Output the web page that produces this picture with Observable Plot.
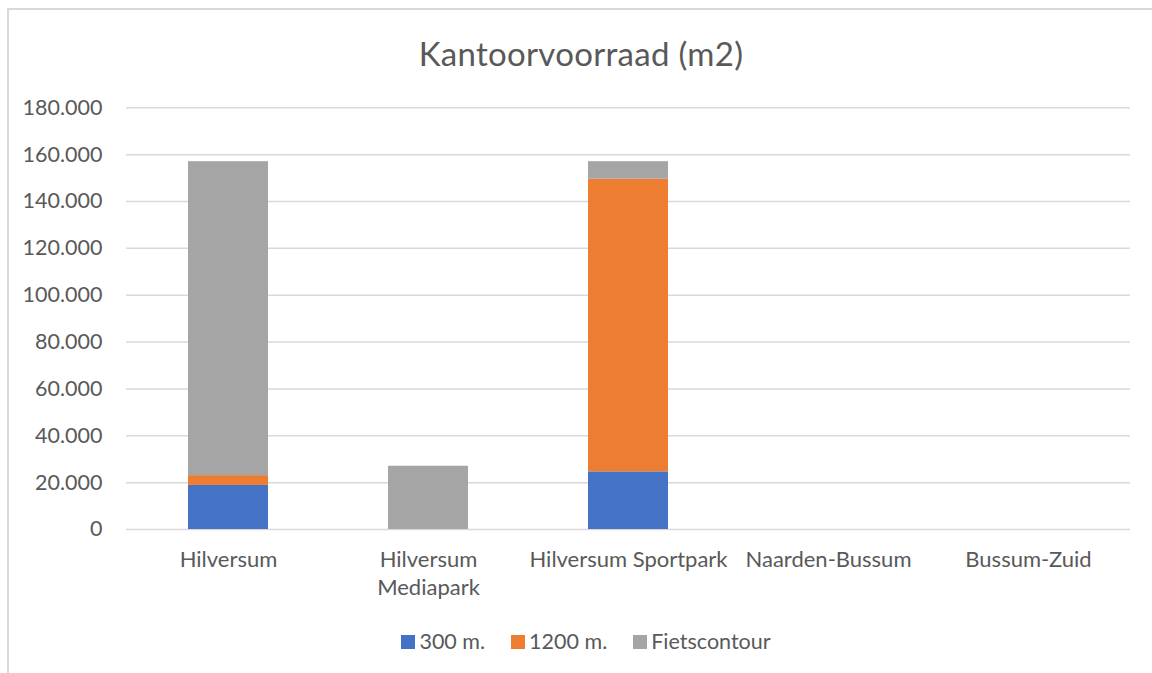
<!DOCTYPE html>
<html><head><meta charset="utf-8">
<script src="https://cdn.jsdelivr.net/npm/d3@7"></script>
<script src="https://cdn.jsdelivr.net/npm/@observablehq/plot@0.6"></script>
<style>
body{margin:0;background:#fff;width:1152px;height:673px;overflow:hidden;position:relative;font-family:Lato,"Open Sans",sans-serif;color:#595959}
#frame{position:absolute;left:7px;top:8px;width:1200px;height:720px;border:2px solid #d9d9d9;box-sizing:border-box}
#title{position:absolute;left:7px;width:1148px;top:37px;text-align:center;font-size:33px;letter-spacing:0.3px;line-height:1;white-space:nowrap}
#chart{position:absolute;left:0;top:90px}
#legend{position:absolute;left:286px;width:600px;top:631px;display:flex;justify-content:center;font-size:21.5px;line-height:1;white-space:nowrap}
.item{display:inline-block;margin:0 13px}
.sw{display:inline-block;width:14px;height:14px;margin-right:4px}
</style></head>
<body>
<div id="frame"></div>
<div id="title">Kantoorvoorraad (m2)</div>
<div id="chart"></div>
<div id="legend"></div>
<script>
const categories = ["Hilversum", "Hilversum Mediapark", "Hilversum Sportpark", "Naarden-Bussum", "Bussum-Zuid"];
const seriesNames = ["300 m.", "1200 m.", "Fietscontour"];
const seriesColors = ["#4472C4", "#ED7D31", "#A5A5A5"];
const values300 = [18800, 0, 24600, 0, 0];
const values1200 = [4200, 0, 124900, 0, 0];
const valuesFiets = [134000, 27000, 7500, 0, 0];
const yTicks = [0, 20000, 40000, 60000, 80000, 100000, 120000, 140000, 160000, 180000];

const data = [];
[values300, values1200, valuesFiets].forEach((vals, si) =>
  vals.forEach((v, ci) => data.push({category: categories[ci], series: seriesNames[si], value: v})));

const nl = d3.formatLocale({decimal: ",", thousands: ".", grouping: [3], currency: ["€", ""]});
const fmt = nl.format(",.0f");
const wrapLabel = d => d === "Hilversum Mediapark" ? "Hilversum\nMediapark" : d;

const plot = Plot.plot({
  width: 1152, height: 520,
  marginLeft: 126, marginRight: 22, marginTop: 17.3, marginBottom: 81,
  style: {fontFamily: "Lato, 'Open Sans', sans-serif", fontSize: "21px", color: "#595959", background: "transparent", overflow: "visible"},
  x: {domain: categories, paddingInner: 0.6, paddingOuter: 0.3, label: null},
  y: {domain: [0, 180000], label: null},
  color: {domain: seriesNames, range: seriesColors},
  marks: [
    Plot.ruleY(yTicks, {stroke: "#d9d9d9", strokeWidth: 1.5}),
    Plot.barY(data, {x: "category", y: "value", fill: "series", order: seriesNames}),
    Plot.axisY({ticks: yTicks, tickSize: 0, tickPadding: 24, tickFormat: fmt, label: null, fontSize: 21.5}),
    Plot.axisX({tickSize: 0, tickPadding: 17, tickFormat: wrapLabel, label: null, fontSize: 22, lineHeight: 1.3})
  ]
});
document.getElementById("chart").appendChild(plot);

const legend = document.getElementById("legend");
seriesNames.forEach((s, i) => {
  const it = document.createElement("span");
  it.className = "item";
  const sw = document.createElement("span");
  sw.className = "sw";
  sw.style.background = seriesColors[i];
  it.appendChild(sw);
  it.appendChild(document.createTextNode(s));
  legend.appendChild(it);
});
</script>
</body></html>
